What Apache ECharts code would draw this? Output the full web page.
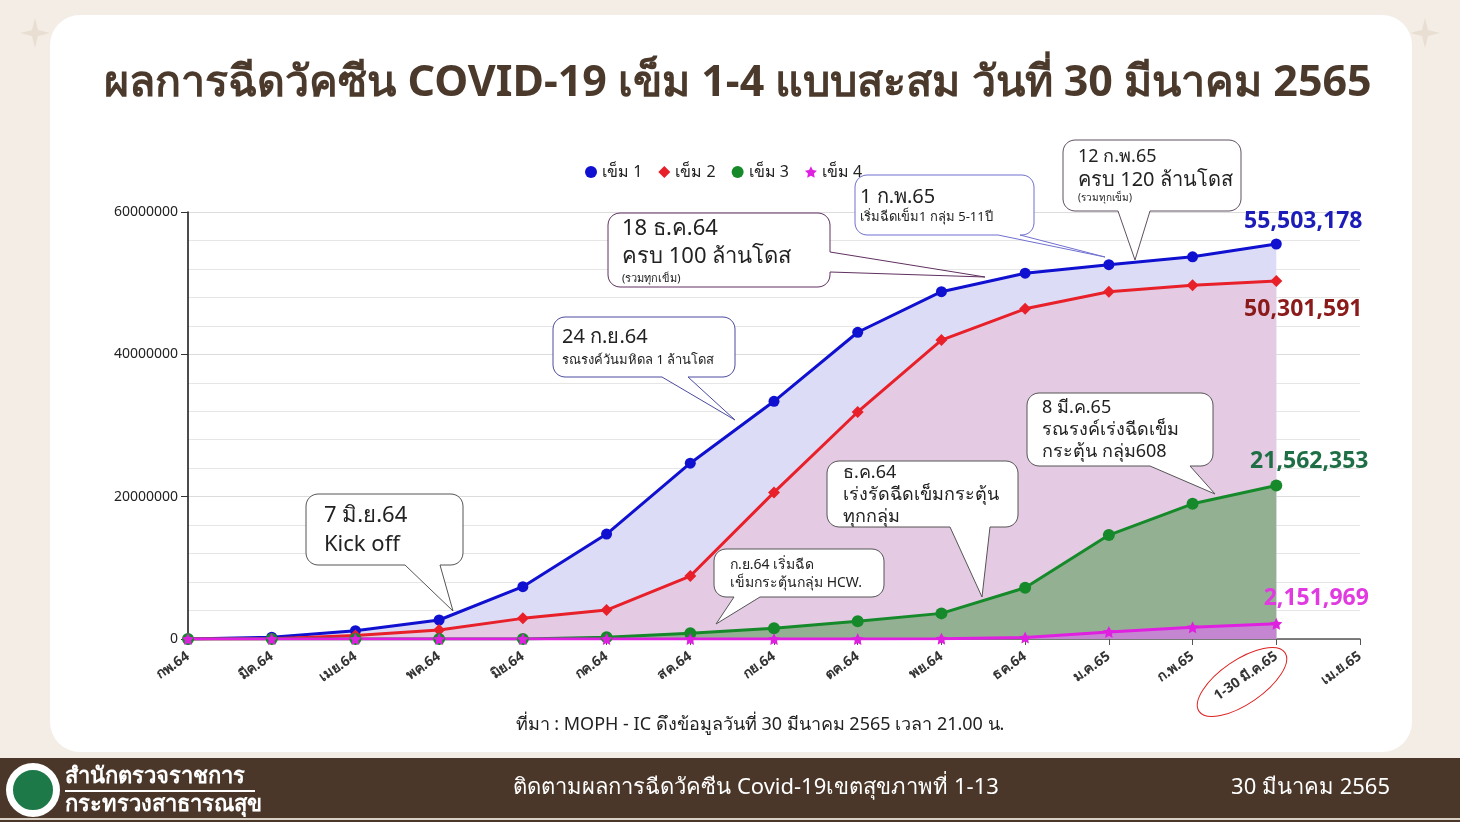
<!DOCTYPE html>
<html>
<head>
<meta charset="utf-8">
<script src="https://cdn.jsdelivr.net/npm/echarts@6/dist/echarts.min.js"></script>
<style>
  html, body { margin: 0; padding: 0; background: #f3ede6; }
  #main { width: 1460px; height: 822px; }
</style>
</head>
<body>
<div id="main"></div>
<script>
// categories (months)
const months = ['กพ.64', 'มีค.64', 'เมย.64', 'พค.64', 'มิย.64', 'กค.64', 'สค.64', 'กย.64', 'ตค.64', 'พย.64', 'ธค.64', 'ม.ค.65', 'ก.พ.65', '1-30 มี.ค.65', 'เม.ย.65'];
// cumulative doses
const dose1 = [0, 250000, 1170000, 2670000, 7350000, 14750000, 24700000, 33400000, 43100000, 48800000, 51400000, 52600000, 53700000, 55503178];
const dose2 = [0, 50000, 500000, 1260000, 2900000, 4070000, 8850000, 20600000, 31900000, 42000000, 46400000, 48800000, 49700000, 50301591];
const dose3 = [0, 0, 0, 0, 0, 250000, 800000, 1500000, 2500000, 3600000, 7200000, 14600000, 19000000, 21562353];
const dose4 = [0, 0, 0, 0, 0, 0, 0, 0, 0, 50000, 200000, 1000000, 1650000, 2151969];
const seriesNames = ['เข็ม 1', 'เข็ม 2', 'เข็ม 3', 'เข็ม 4'];
const yTicks = [0, 20000000, 40000000, 60000000];

const FONT = "'Noto Sans', 'DejaVu Sans', sans-serif";
const STAR = 'path://M0,-10L2.9,-4L9.5,-3.1L4.8,1.5L5.9,8.1L0,5L-5.9,8.1L-4.8,1.5L-9.5,-3.1L-2.9,-4Z';
const chart = echarts.init(document.getElementById('main'));

// puts the value label on the last point only
function withEndLabel(arr, label) {
    return arr.map((v, i) => i === arr.length - 1 ? { value: v, label: label } : v);
}
function endLabel(color, pos, off) {
    return {
        show: true, position: pos, offset: off, color: color,
        fontSize: 23, fontWeight: 'bold', fontFamily: FONT,
        formatter: p => Number(p.value).toLocaleString('en-US')
    };
}

// rounded box with a pointer, as polygon points
function bubble(x, y, w, h, r, t) {
    const pts = [];
    const corner = (cx, cy, a0) => {
        for (let k = 0; k <= 6; k++) {
            const a = (a0 + k * 15) * Math.PI / 180;
            pts.push([cx + r * Math.cos(a), cy + r * Math.sin(a)]);
        }
    };
    corner(x + w - r, y + r, -90);
    if (t.side === 'right') { pts.push([x + w, t.a], [t.tx, t.ty], [x + w, t.b]); }
    corner(x + w - r, y + h - r, 0);
    if (t.side === 'bottom') { pts.push([t.b, y + h], [t.tx, t.ty], [t.a, y + h]); }
    corner(x + r, y + h - r, 90);
    corner(x + r, y + r, 180);
    return pts;
}
function callout(box, tail, stroke, lines) {
    const els = [{
        type: 'polygon', z: 100,
        shape: { points: bubble(box[0], box[1], box[2], box[3], 12, tail) },
        style: { fill: '#fff', stroke: stroke, lineWidth: 1 }
    }];
    lines.forEach(l => els.push({
        type: 'text', z: 101, x: l[0], y: l[1],
        style: { text: l[2], font: l[3] + 'px ' + FONT, fill: '#222', textVerticalAlign: 'middle' }
    }));
    return els;
}

const graphics = [
    { type: 'rect', z: -100, shape: { x: 50, y: 15, width: 1362, height: 737, r: 30 }, style: { fill: '#fff' } },
    { type: 'polygon', z: -90, shape: { points: [[35, 18], [38, 30], [50, 33], [38, 36], [35, 48], [32, 36], [20, 33], [32, 30]] }, style: { fill: '#e9ded2' } },
    { type: 'polygon', z: -90, shape: { points: [[1425, 18], [1428, 30], [1440, 33], [1428, 36], [1425, 48], [1422, 36], [1410, 33], [1422, 30]] }, style: { fill: '#e9ded2' } },
    { type: 'text', x: 738, y: 84, style: { text: 'ผลการฉีดวัคซีน COVID-19 เข็ม 1-4 แบบสะสม วันที่ 30 มีนาคม 2565', font: 'bold 43px ' + FONT, fill: '#4b3a2c', textAlign: 'center', textVerticalAlign: 'middle' } },
    { type: 'text', x: 760, y: 725, style: { text: 'ที่มา : MOPH - IC ดึงข้อมูลวันที่ 30 มีนาคม 2565 เวลา 21.00 น.', font: '18px ' + FONT, fill: '#222', textAlign: 'center', textVerticalAlign: 'middle' } },
    { type: 'ellipse', x: 1242, y: 682, rotation: 0.6, shape: { cx: 0, cy: 0, rx: 52, ry: 22 }, style: { fill: 'none', stroke: '#d22', lineWidth: 1 } },
    // footer
    { type: 'rect', z: -50, shape: { x: 0, y: 758, width: 1460, height: 64 }, style: { fill: '#4a3729' } },
    { type: 'rect', z: -40, shape: { x: 0, y: 818, width: 1460, height: 2 }, style: { fill: '#d9d0c6' } },
    { type: 'circle', z: -30, shape: { cx: 33, cy: 790, r: 27 }, style: { fill: '#fff' } },
    { type: 'circle', z: -29, shape: { cx: 33, cy: 790, r: 21 }, style: { fill: '#1d7a48', stroke: '#fff', lineWidth: 2 } },
    { type: 'text', x: 65, y: 777, style: { text: 'สำนักตรวจราชการ', font: 'bold 22px ' + FONT, fill: '#fff', textVerticalAlign: 'middle' } },
    { type: 'rect', shape: { x: 65, y: 790, width: 190, height: 2 }, style: { fill: '#fff' } },
    { type: 'text', x: 65, y: 805, style: { text: 'กระทรวงสาธารณสุข', font: 'bold 22px ' + FONT, fill: '#fff', textVerticalAlign: 'middle' } },
    { type: 'text', x: 756, y: 788, style: { text: 'ติดตามผลการฉีดวัคซีน Covid-19เขตสุขภาพที่ 1-13', font: '22px ' + FONT, fill: '#fff', textAlign: 'center', textVerticalAlign: 'middle' } },
    { type: 'text', x: 1390, y: 788, style: { text: '30 มีนาคม 2565', font: '22px ' + FONT, fill: '#fff', textAlign: 'right', textVerticalAlign: 'middle' } }
].concat(
    callout([306, 494, 157, 71], { side: 'bottom', a: 405, b: 440, tx: 453, ty: 611 }, '#555',
        [[324, 516, '7 มิ.ย.64', 22], [324, 545, 'Kick off', 22]]),
    callout([553, 317, 182, 60], { side: 'bottom', a: 662, b: 688, tx: 735, ty: 420 }, '#4a4aa0',
        [[562, 337, '24 ก.ย.64', 20], [562, 360, 'รณรงค์วันมหิดล 1 ล้านโดส', 13]]),
    callout([608, 213, 222, 74], { side: 'right', a: 252, b: 272, tx: 985, ty: 277 }, '#603060',
        [[622, 229, '18 ธ.ค.64', 22], [622, 257, 'ครบ 100 ล้านโดส', 22], [622, 279, '(รวมทุกเข็ม)', 11]]),
    callout([855, 175, 179, 60], { side: 'bottom', a: 998, b: 1020, tx: 1105, ty: 257 }, '#7070d0',
        [[860, 197, '1 ก.พ.65', 20], [860, 217, 'เริ่มฉีดเข็ม1 กลุ่ม 5-11ปี', 13]]),
    callout([1063, 140, 178, 71], { side: 'bottom', a: 1118, b: 1150, tx: 1135, ty: 260 }, '#605060',
        [[1078, 157, '12 ก.พ.65', 18], [1078, 180, 'ครบ 120 ล้านโดส', 20], [1078, 198, '(รวมทุกเข็ม)', 10]]),
    callout([714, 549, 170, 48], { side: 'bottom', a: 734, b: 760, tx: 716, ty: 624 }, '#555',
        [[730, 565, 'ก.ย.64 เริ่มฉีด', 14], [730, 583, 'เข็มกระตุ้นกลุ่ม HCW.', 14]]),
    callout([827, 461, 191, 66], { side: 'bottom', a: 950, b: 990, tx: 982, ty: 597 }, '#555',
        [[843, 473, 'ธ.ค.64', 18], [843, 495, 'เร่งรัดฉีดเข็มกระตุ้น', 18], [843, 517, 'ทุกกลุ่ม', 18]]),
    callout([1027, 393, 186, 73], { side: 'bottom', a: 1150, b: 1190, tx: 1215, ty: 494 }, '#555',
        [[1042, 408, '8 มี.ค.65', 18], [1042, 430, 'รณรงค์เร่งฉีดเข็ม', 18], [1042, 452, 'กระตุ้น กลุ่ม608', 18]])
);

const option = {
    backgroundColor: '#f3ede6',
    animation: false,
    textStyle: { fontFamily: FONT },
    legend: {
        left: 580, top: 159,
        itemWidth: 12, itemHeight: 12, itemGap: 16,
        textStyle: { fontSize: 16, color: '#222' },
        data: [
            { name: seriesNames[0], icon: 'circle' },
            { name: seriesNames[1], icon: 'diamond' },
            { name: seriesNames[2], icon: 'circle' },
            { name: seriesNames[3], icon: STAR }
        ]
    },
    grid: { left: 188, right: 100, top: 212, bottom: 183, containLabel: false },
    xAxis: {
        type: 'category',
        data: months,
        boundaryGap: false,
        axisLine: { lineStyle: { color: '#555', width: 1.5 } },
        axisTick: { show: true, length: 6, lineStyle: { color: '#555' } },
        axisLabel: { rotate: 35, margin: 16, fontSize: 14, fontWeight: 'bold', color: '#333', interval: 0 },
        splitLine: { show: false }
    },
    yAxis: {
        type: 'value',
        min: yTicks[0], max: yTicks[yTicks.length - 1], interval: yTicks[1] - yTicks[0],
        axisLine: { show: true, lineStyle: { color: '#111', width: 1.5 } },
        axisTick: { show: true, length: 7, lineStyle: { color: '#333' } },
        axisLabel: { fontSize: 14, color: '#222', margin: 10, formatter: v => String(v) },
        splitLine: { lineStyle: { color: '#dcdcdc' } },
        minorTick: { show: false, splitNumber: 5 },
        minorSplitLine: { show: true, lineStyle: { color: '#e6e6e6' } }
    },
    series: [
        {
            name: seriesNames[0], type: 'line', data: withEndLabel(dose1, endLabel('#1c1cb8', 'top', [27, -1])),
            symbol: 'circle', symbolSize: 11, showAllSymbol: true,
            lineStyle: { color: '#1010d0', width: 3 }, itemStyle: { color: '#1010d0' },
            areaStyle: { color: '#dddcf6', opacity: 1 }
        },
        {
            name: seriesNames[1], type: 'line', data: withEndLabel(dose2, endLabel('#8b1a1a', 'bottom', [27, 6])),
            symbol: 'diamond', symbolSize: 12, showAllSymbol: true,
            lineStyle: { color: '#e8202a', width: 3 }, itemStyle: { color: '#e8202a' },
            areaStyle: { color: '#e4cbe3', opacity: 1 }
        },
        {
            name: seriesNames[2], type: 'line', data: withEndLabel(dose3, endLabel('#1e6e46', 'top', [33, -2])),
            symbol: 'circle', symbolSize: 12, showAllSymbol: true,
            lineStyle: { color: '#168a2a', width: 3 }, itemStyle: { color: '#168a2a' },
            areaStyle: { color: '#93b192', opacity: 1 }
        },
        {
            name: seriesNames[3], type: 'line', data: withEndLabel(dose4, endLabel('#e03ae0', 'top', [40, -3])),
            symbol: STAR, symbolSize: 12, showAllSymbol: true,
            lineStyle: { color: '#e020e0', width: 3 }, itemStyle: { color: '#e020e0' },
            areaStyle: { color: '#c486d0', opacity: 1 }
        }
    ],
    graphic: graphics
};
chart.setOption(option);
</script>
</body>
</html>
